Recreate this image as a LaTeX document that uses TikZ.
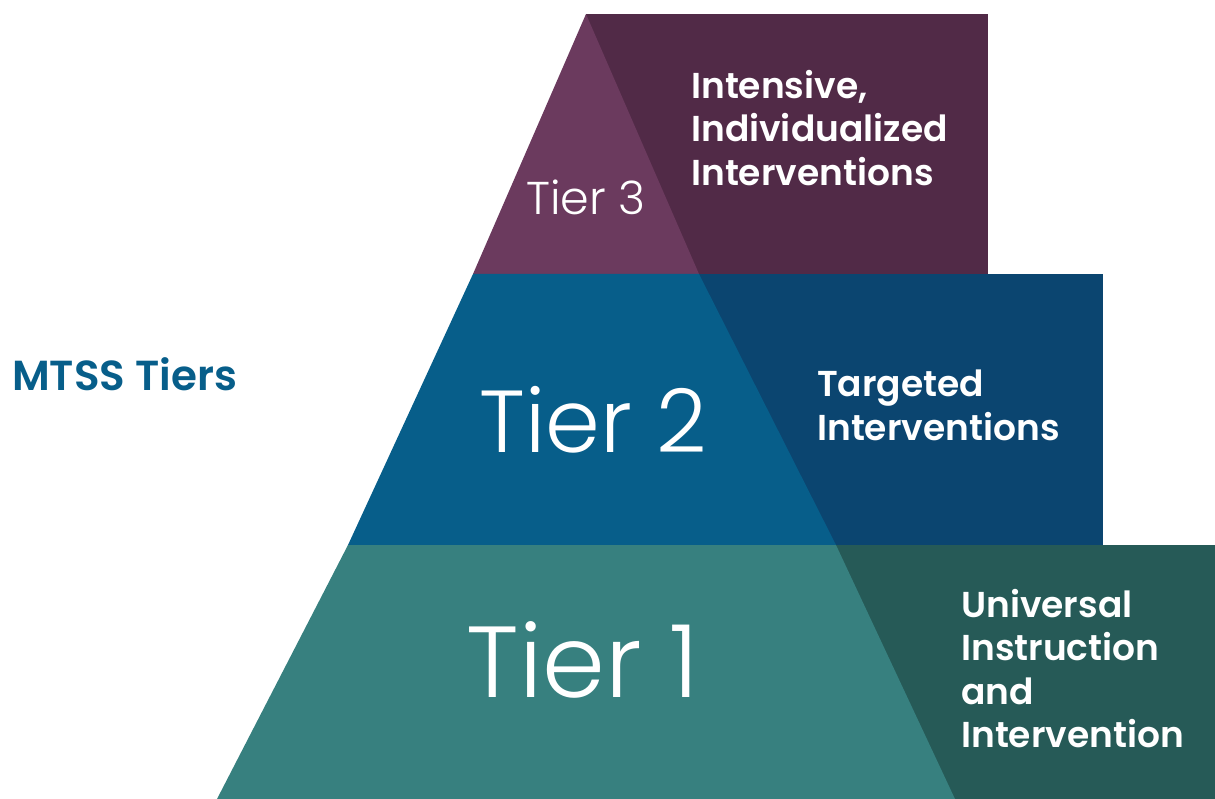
\documentclass[tikz,border=0pt]{standalone}
\usepackage{fontspec}
\setmainfont{Poppins}
\newfontfamily\tierlight{Poppins Light}
\newfontfamily\tiersemi{Poppins SemiBold}
\definecolor{tierthree}{HTML}{6B3A5E}
\definecolor{tierthreedark}{HTML}{512A47}
\definecolor{tiertwo}{HTML}{075E8A}
\definecolor{tiertwodark}{HTML}{0B4570}
\definecolor{tierone}{HTML}{37807F}
\definecolor{tieronedark}{HTML}{265A57}

\begin{document}
\begin{tikzpicture}[
  x=1pt, y=-1pt,
  tierlabel/.style={text=white, inner sep=0pt, anchor=base},
  tierdesc/.style={text=white, inner sep=0pt, anchor=north west, align=left,
    font=\tiersemi\fontsize{36}{43.5}\selectfont},
  title/.style={text=tiertwo, inner sep=0pt, anchor=base west,
    font=\tiersemi\fontsize{42}{48}\selectfont}
]
\useasboundingbox (0,0) rectangle (1215,799);
\coordinate (apex) at (586,14);
\coordinate (l3) at (473,274);
\coordinate (r3) at (699,274);
\coordinate (l2) at (348,545);
\coordinate (r2) at (836,545);
\coordinate (l1) at (217,799);
\coordinate (r1) at (955,799);

\fill[tierthreedark] (apex) rectangle (988,274);
\fill[tiertwodark] (r3) rectangle (1103,545);
\fill[tieronedark] (r2) rectangle (1215,799);

\fill[tierthree] (apex) -- (r3) -- (l3) -- cycle;
\fill[tiertwo] (l3) -- (r3) -- (r2) -- (l2) -- cycle;
\fill[tierone] (l2) -- (r2) -- (r1) -- (l1) -- cycle;

\node[title] (mtss) at (12,390) {MTSS Tiers};

\node[tierlabel, font=\tierlight\fontsize{46}{46}\selectfont] (tier3) at (586,215) {Tier 3};
\node[tierlabel, font=\tierlight\fontsize{88}{88}\selectfont] (tier2) at (593,452) {Tier 2};
\node[tierlabel, font=\tierlight\fontsize{101}{101}\selectfont] (tier1) at (583,697) {Tier 1};

\node[tierdesc] (intensive) at (691,70) {Intensive,\\Individualized\\Interventions};
\node[tierdesc] (targeted) at (817,370) {Targeted\\Interventions};
\node[tierdesc] (universal) at (961,589) {Universal\\Instruction\\and\\Intervention};
\end{tikzpicture}
\end{document}
